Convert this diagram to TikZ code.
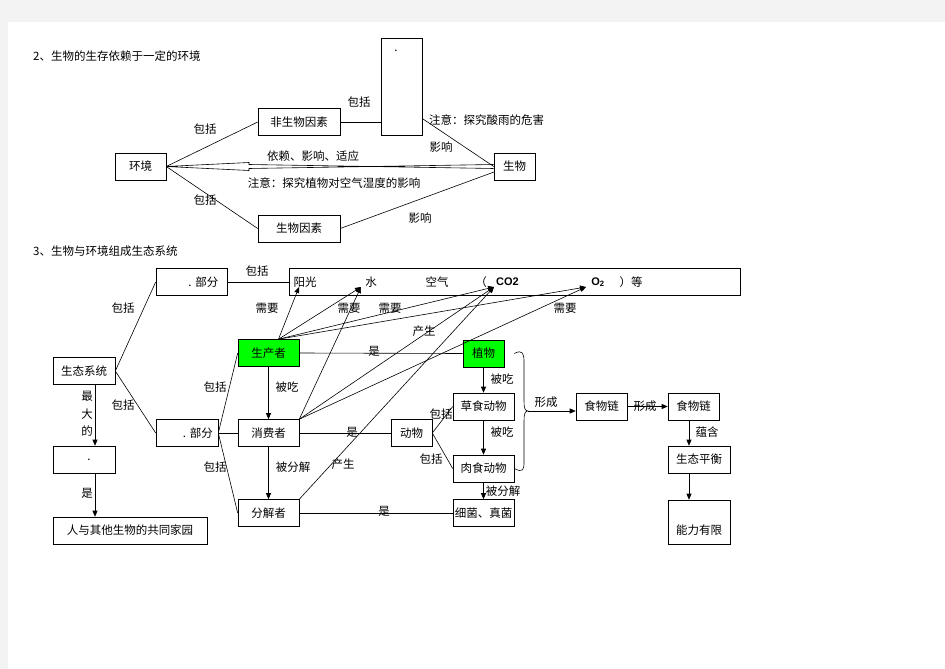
\documentclass[tikz,border=0pt]{standalone}
\usepackage{fontspec}
\setmainfont{Noto Sans CJK SC}
\newfontfamily\latinsans{Liberation Sans}
\usetikzlibrary{arrows.meta,positioning}

\definecolor{pagegray}{RGB}{243,243,243}
\definecolor{livegreen}{RGB}{0,255,0}
\newcommand\zhsize{\fontsize{11.5}{14}\selectfont}

\tikzset{
  box/.style={draw, line width=0.6pt, inner sep=0pt,
    minimum width=#1, minimum height=27pt},
  box/.default=62pt,
  lbl/.style={inner sep=0pt},
  link/.style={line width=0.6pt},
  arr/.style={line width=0.6pt, -{Triangle[length=6pt,width=5pt]}},
  gas/.style={inner sep=0pt, font=\latinsans\bfseries\fontsize{11}{13}\selectfont},
}

\begin{document}
\begin{tikzpicture}[x=1pt, y=-1pt, font=\zhsize]
  \useasboundingbox (0,0) rectangle (945,669);
  \fill[pagegray] (0,0) rectangle (945,669);
  \fill[white] (8,22) rectangle (945,669);

  % part 2
  \node[lbl, anchor=west] (titleA) at (33,56) {2、生物的生存依赖于一定的环境};
  \node[box=41pt, minimum height=97pt] (abio) at (401.5,86.5) {};
  \node[lbl] (abiodot) at (396,51) {.};
  \node[box=82pt] (fsw) at (299,122) {非生物因素};
  \node[box=51pt] (hj) at (140.5,166.5) {环境};
  \node[box=41pt] (sw) at (514.5,166.5) {生物};
  \node[box=82pt] (swyz) at (299,228.5) {生物因素};
  \coordinate (abioout) at (423,119);
  \coordinate (swlow) at (494,172);

  \draw[link] (hj.east) -- (fsw.west);
  \draw[link] (hj.east) -- (swyz.west);
  \draw[link] (fsw.east) -- (fsw.east -| abio.west);
  \draw[link] (abioout) -- (sw.west);
  \draw[link] (swyz.east) -- (swlow);
  \draw[link] ([yshift=-2pt]sw.west) -- (249,164.5) -- (249,162.5) -- (hj.east)
    -- (249,170.5) -- (249,168.5) -- ([yshift=2pt]sw.west);

  \node[lbl] (lbA1) at (205,129) {包括};
  \node[lbl] (lbA2) at (205,200) {包括};
  \node[lbl] (lbA3) at (359,102) {包括};
  \node[lbl, anchor=west] (noteA) at (429,120) {注意：探究酸雨的危害};
  \node[lbl] (lbA4) at (441,147) {影响};
  \node[lbl] (lbA5) at (420,218) {影响};
  \node[lbl] (lbA6) at (313,156) {依赖、影响、适应};
  \node[lbl] (noteB) at (334,183) {注意：探究植物对空气湿度的影响};

  % part 3
  \node[lbl, anchor=west] (titleB) at (33,251) {3、生物与环境组成生态系统};
  \node[box=71pt, text width=54pt, align=right] (fsb) at (191.5,282) {.\ 部分};
  \node[box=451pt] (hjys) at (514.5,282) {};
  \node[lbl] (yg) at (305,282) {阳光};
  \node[lbl] (shui) at (371,282) {水};
  \node[lbl] (kq) at (437,282) {空气};
  \node[lbl] (kh) at (481,282) {（};
  \node[gas] (co) at (507.5,282) {CO2};
  \node[gas] (oo) at (598,282) {O\textsubscript{2}};
  \node[lbl] (deng) at (631,282) {）等};
  \coordinate (tyg) at (299,287);
  \coordinate (tsh) at (361,287);
  \coordinate (tco) at (494,287);
  \coordinate (too) at (586,287);

  \node[box] (stxt) at (84,371) {生态系统};
  \node[box, text width=52pt, align=right] (sb) at (187,433) {.\ 部分};
  \node[box] (zd) at (84,459.5) {\hspace*{10pt}.};
  \node[box=154pt] (jy) at (130,530.5) {人与其他生物的共同家园};

  \node[box=61pt, fill=livegreen] (scz) at (268.5,353) {生产者};
  \node[box=61pt] (xfz) at (268.5,433) {消费者};
  \node[box=61pt] (fjz) at (268.5,513) {分解者};
  \node[box=41pt, fill=livegreen] (zw) at (483.5,353.5) {植物};
  \node[box=41pt] (dw) at (411.5,433) {动物};
  \node[box=61pt] (cs) at (483.5,406.5) {草食动物};
  \node[box=61pt] (rs) at (483.5,468.5) {肉食动物};
  \node[box=61pt] (xj) at (483.5,513) {细菌、真菌};
  \node[box=51pt] (swl1) at (601.5,406.5) {食物链};
  \node[box=51pt] (swl2) at (693.5,406.5) {食物链};
  \node[box] (sttp) at (699,459.5) {生态平衡};
  \node[box, minimum height=44pt] (nl) at (699,522) {\rule{0pt}{26pt}能力有限};
  \coordinate (sczo) at ([xshift=10pt]scz.north);
  \coordinate (brtip) at (528,411);

  \draw[link] (fsb.east) -- (hjys.west);
  \draw[link] (stxt.east) -- (fsb.west);
  \draw[link] (stxt.east) -- (sb.west);
  \draw[arr] ([xshift=11pt]stxt.south) -- ([xshift=11pt]zd.north);
  \draw[arr] ([xshift=11pt]zd.south) -- ([xshift=11pt]zd.south |- jy.north);
  \draw[link] (sb.east) -- (scz.west);
  \draw[link] (sb.east) -- (xfz.west);
  \draw[link] (sb.east) -- (fjz.west);
  \draw[arr] (scz) -- (xfz);
  \draw[arr] (xfz) -- (fjz);
  \draw[link] (scz.east) -- (zw.west);
  \draw[link] (xfz.east) -- (dw.west);
  \draw[link] (fjz.east) -- (xj.west);
  \draw[link] (dw.east) -- (cs.west);
  \draw[link] (dw.east) -- (rs.west);
  \draw[arr] (zw) -- (cs);
  \draw[arr] (cs) -- (rs);
  \draw[arr] (rs) -- (xj);
  \foreach \t in {tyg,tsh,tco,too}
    \draw[arr] (sczo) -- (\t);
  \foreach \t in {tsh,tco,too}
    \draw[arr] (xfz.north east) -- (\t);
  \draw[arr] (fjz.north east) -- (tco);

  % brace round the food chain
  \draw[link] (zw.east -| cs.east) .. controls (523,349) and (524,354) .. (524,362)
    -- (524,401) .. controls (524,408) and (525,411) .. (brtip)
    .. controls (525,411) and (524,414) .. (524,421) -- (524,462)
    .. controls (524,470) and (523,473) .. (rs.east);
  \draw[arr] (brtip) -- (brtip -| swl1.west);
  \draw[arr] (swl1.east) -- (swl2.west);
  \draw[arr] ([xshift=-4.5pt]swl2.south) -- ([xshift=-4.5pt]swl2.south |- sttp.north);
  \draw[arr] ([xshift=-10pt]sttp.south) -- ([xshift=-10pt]sttp.south |- nl.north);

  \node[lbl] (lbB1) at (257,271) {包括};
  \node[lbl] (lbB2) at (123,308) {包括};
  \node[lbl] (lbB3) at (123,405) {包括};
  \node[lbl, align=center, font=\fontsize{11.5}{17.5}\selectfont] (lbB4) at (87,414) {最\\大\\的};
  \node[lbl] (lbB5) at (87,493) {是};
  \node[lbl] (lbB6) at (215,387) {包括};
  \node[lbl] (lbB7) at (215,467) {包括};
  \node[lbl] (lbB8) at (287,387) {被吃};
  \node[lbl] (lbB9) at (293,467) {被分解};
  \node[lbl] (lbC1) at (267,308) {需要};
  \node[lbl] (lbC2) at (349,308) {需要};
  \node[lbl] (lbC3) at (390,308) {需要};
  \node[lbl] (lbC4) at (565,308) {需要};
  \node[lbl] (lbC5) at (424,331) {产生};
  \node[lbl] (lbC6) at (343,464) {产生};
  \node[lbl] (lbC7) at (374,351) {是};
  \node[lbl] (lbC8) at (352,432) {是};
  \node[lbl] (lbC9) at (384,511) {是};
  \node[lbl] (lbD1) at (441,414) {包括};
  \node[lbl] (lbD2) at (431,459) {包括};
  \node[lbl] (lbD3) at (502,379) {被吃};
  \node[lbl] (lbD4) at (502,432) {被吃};
  \node[lbl] (lbD5) at (503,491) {被分解};
  \node[lbl] (lbD6) at (546,402) {形成};
  \node[lbl] (lbD7) at (645,406) {形成};
  \node[lbl] (lbD8) at (707,432) {蕴含};
\end{tikzpicture}
\end{document}
